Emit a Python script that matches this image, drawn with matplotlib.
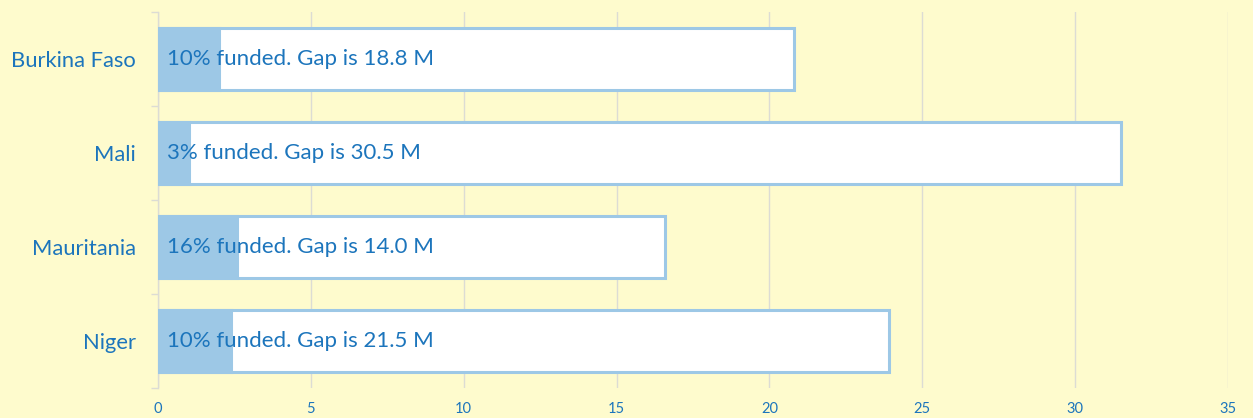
import matplotlib.pyplot as plt
import numpy as np

# data (millions)
countries = ['Burkina Faso', 'Mali', 'Mauritania', 'Niger']
required = [20.8, 31.5, 16.6, 23.9]
funded = [2.0, 1.0, 2.6, 2.4]
pct_funded = [10, 3, 16, 10]
gap = [18.8, 30.5, 14.0, 21.5]
x_ticks = [0, 5, 10, 15, 20, 25, 30, 35]

bg = '#FEFBCD'
blue_fill = '#9DC8E6'
text_blue = '#1C75BC'
grid_grey = '#DCDCD4'

plt.rcParams['font.family'] = ['Lato', 'DejaVu Sans']

fig = plt.figure(figsize=(12.53, 4.18), dpi=100, facecolor=bg)
ax = fig.add_axes([158 / 1253, 30 / 418, (1228 - 158) / 1253, 376 / 418])
ax.set_facecolor(bg)

y = np.arange(len(countries))
bar_h = 0.66

# total requirement: white box with blue outline
ax.barh(y, required, height=bar_h, color='white', edgecolor=blue_fill,
        linewidth=2.2, zorder=2)
# funded part
ax.barh(y, funded, height=bar_h, color=blue_fill, edgecolor=blue_fill,
        linewidth=2.2, zorder=3)

for i in range(len(countries)):
    ax.text(0.3, y[i], f'{pct_funded[i]}% funded. Gap is {gap[i]:.1f} M',
            va='center', ha='left', color=text_blue, fontsize=16, zorder=4)

ax.set_xlim(0, 35)
ax.set_ylim(len(countries) - 0.5, -0.5)
ax.set_xticks(x_ticks)
ax.set_xticklabels([str(t) for t in x_ticks])
ax.tick_params(axis='x', length=0, pad=10, labelsize=10.5, labelcolor=text_blue)

ax.set_yticks(y)
ax.set_yticklabels(countries)
ax.tick_params(axis='y', length=0, pad=16, labelsize=15.8, labelcolor=text_blue)
ax.set_yticks(np.arange(-0.5, len(countries)), minor=True)
ax.tick_params(axis='y', which='minor', length=5, width=1, color=grid_grey)

ax.grid(axis='x', color=grid_grey, linewidth=1, zorder=0)
ax.set_axisbelow(True)

for side in ['top', 'right', 'bottom']:
    ax.spines[side].set_visible(False)
ax.spines['left'].set_color(grid_grey)
ax.spines['left'].set_linewidth(1)

fig.savefig('out.png', dpi=100, facecolor=bg)
